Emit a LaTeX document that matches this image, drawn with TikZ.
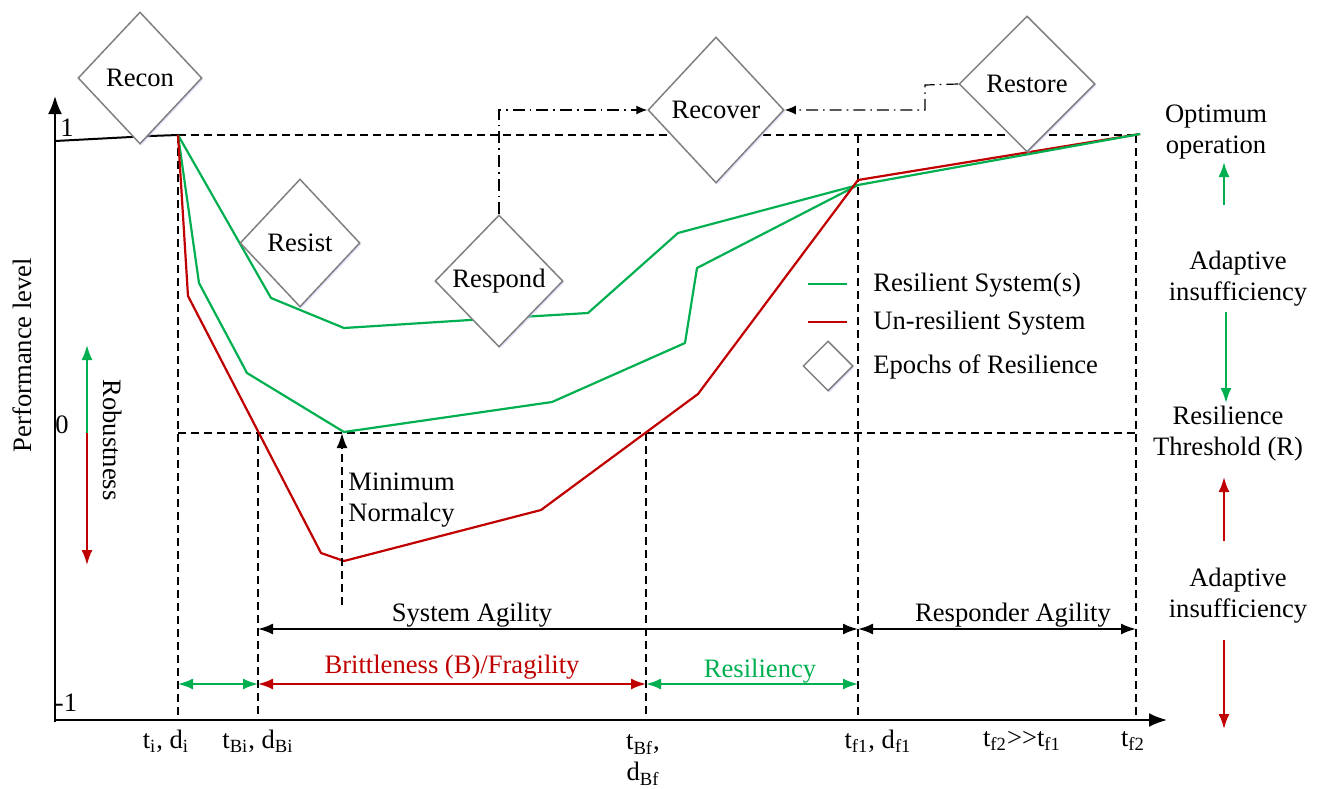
\documentclass[tikz,border=0pt]{standalone}
\usepackage{fontspec}
\setmainfont{Liberation Serif}
\usetikzlibrary{arrows.meta,shapes.geometric,shadows}
\definecolor{rgreen}{RGB}{0,176,80}
\definecolor{rred}{RGB}{192,0,0}
\definecolor{dgray}{RGB}{128,128,128}
\begin{document}
\begin{tikzpicture}[x=0.5pt,y=-0.5pt,
  font=\fontsize{13.3}{15.5}\selectfont,
  epoch/.style={diamond, draw=dgray, line width=0.75pt, fill=white, inner sep=0pt,
    drop shadow={shadow xshift=0.8pt, shadow yshift=-0.8pt, fill=blue!20, opacity=0.5}},
  dsh/.style={line width=1pt, dash pattern=on 4pt off 2.5pt},
  crv/.style={line width=1.1pt, line join=round},
  tip/.style={-{Latex[length=7.5pt,width=5.5pt]}},
  dtip/.style={{Latex[length=7.5pt,width=5.5pt]}-{Latex[length=7.5pt,width=5.5pt]}},
  dashdot/.style={line width=0.6pt, dash pattern=on 6pt off 2.5pt on 0.8pt off 2.5pt,
    -{Latex[length=5.5pt,width=4.5pt]}},
  lbl/.style={inner sep=0pt, align=center}]
\useasboundingbox (0,0) rectangle (1318,788);

% key coordinates
\coordinate (Ytop) at (55,96);
\coordinate (Xend) at (1167,720);
\coordinate (P0) at (178,135);
\coordinate (F1) at (858,185);
\coordinate (F1r) at (858,180);
\coordinate (Top2) at (1140,134);

% dashed guide lines
\draw[dsh] (P0) -- (1140,135);
\draw[dsh] (P0) -- (178,720);
\draw[dsh] (858,135) -- (858,720);
\draw[dsh] (1136,135) -- (1136,720);
\draw[dsh] (178,433) -- (1136,433);
\draw[dsh] (258,433) -- (258,720);
\draw[dsh] (646,433) -- (646,720);

% axes
\draw[line width=1pt, -{Latex[length=9pt,width=7pt]}] (55,722) -- (Ytop);
\draw[line width=1pt, -{Latex[length=9pt,width=7pt]}] (54,720) -- (Xend);
\node[lbl] (one) at (67,128) {1};
\node[lbl] (zero) at (62,425) {0};
\node[lbl] (mone) at (66,703) {-1};
\node[lbl, rotate=90] (perf) at (22,355) {Performance level};

% initial line
\draw[line width=1pt] (55,141) -- (150,136) -- (P0);

% curves
\draw[crv, rgreen] (P0) -- (271,298) -- (344,328) -- (470,320) -- (588,313) -- (678,233) -- (F1);
\draw[crv, rgreen] (P0) -- (199,283) -- (247,373) -- (344,432) -- (552,402) -- (685,343) -- (697,268) -- (F1);
\draw[crv, rred] (P0) -- (188,296) -- (321,553) -- (344,561) -- (541,510) -- (698,394) -- (F1r) -- (Top2);
\draw[crv, rgreen] (F1) -- (Top2);

% minimum normalcy
\coordinate (mnb) at (342,605);
\coordinate (mnt) at (342,433);
\draw[dsh, tip] (mnb) -- (mnt);
\node[lbl, align=left, anchor=west] (minnorm) at (348,500) {Minimum\\Normalcy};

% robustness arrow
\coordinate (rbtop) at (87,345);
\coordinate (rbmid) at (87,433);
\coordinate (rbbot) at (87,565);
\draw[line width=1pt, rgreen, tip] (rbmid) -- (rbtop);
\draw[line width=1pt, rred, tip] (rbmid) -- (rbbot);
\node[lbl, rotate=-90] (robust) at (113,440) {Robustness};

% epochs
\node[epoch, minimum width=62pt, minimum height=66pt] (recon) at (140,78) {Recon};
\node[epoch, minimum width=60pt, minimum height=64pt] (resist) at (300,243) {Resist};
\node[epoch, minimum width=64pt, minimum height=66pt] (respond) at (499,281) {Respond};
\node[epoch, minimum width=68pt, minimum height=73pt] (recover) at (716,110) {Recover};
\node[epoch, minimum width=68pt, minimum height=68pt] (restore) at (1027,84) {Restore};

% dash-dot connectors
\draw[dashdot] (respond.north) |- (recover.west);
\coordinate (rsk) at (925,85);
\draw[dashdot] (restore.west) -- (rsk) |- (recover.east);

% legend
\coordinate (lg1a) at (808,284); \coordinate (lg1b) at (847,284);
\coordinate (lg2a) at (808,322); \coordinate (lg2b) at (847,322);
\draw[crv, rgreen] (lg1a) -- (lg1b);
\draw[crv, rred] (lg2a) -- (lg2b);
\node[lbl, anchor=west] (lgt1) at (873,285) {Resilient System(s)};
\node[lbl, anchor=west] (lgt2) at (873,323) {Un-resilient System};
\node[epoch, minimum width=25pt, minimum height=25pt] (lgd) at (828,366) {};
\node[lbl, anchor=west] (lgt3) at (873,367) {Epochs of Resilience};

% right column
\node[lbl] (optop) at (1216,132) {Optimum\\operation};
\node[lbl] (adapt1) at (1238,279) {Adaptive\\insufficiency};
\node[lbl] (resth) at (1228,434) {Resilience\\Threshold (R)};
\node[lbl] (adapt2) at (1238,596) {Adaptive\\insufficiency};
\coordinate (g1a) at (1224,205); \coordinate (g1b) at (1224,162);
\coordinate (g2a) at (1226,312); \coordinate (g2b) at (1226,403);
\coordinate (r1a) at (1224,541); \coordinate (r1b) at (1224,477);
\coordinate (r2a) at (1224,640); \coordinate (r2b) at (1224,729);
\draw[line width=1pt, rgreen, tip] (g1a) -- (g1b);
\draw[line width=1pt, rgreen, tip] (g2a) -- (g2b);
\draw[line width=1pt, rred, tip] (r1a) -- (r1b);
\draw[line width=1pt, rred, tip] (r2a) -- (r2b);

% bottom spans
\coordinate (a1) at (178,684); \coordinate (a2) at (258,684);
\coordinate (a3) at (646,684); \coordinate (a4) at (858,684);
\draw[line width=1pt, rgreen, dtip] (a1) -- (a2);
\draw[line width=1pt, rred, dtip] (a2) -- (a3);
\draw[line width=1pt, rgreen, dtip] (a3) -- (a4);
\node[lbl, text=rred] (britt) at (452,667) {Brittleness (B)/Fragility};
\node[lbl, text=rgreen] (resil) at (760,671) {Resiliency};

\coordinate (b1) at (258,629); \coordinate (b2) at (858,629); \coordinate (b3) at (1136,629);
\draw[line width=1pt, dtip] (b1) -- (b2);
\draw[line width=1pt, dtip] (b2) -- (b3);
\node[lbl] (sysag) at (472,615) {System Agility};
\node[lbl] (respag) at (1013,615) {Responder Agility};

% time labels
\node[lbl] (ti) at (166,741) {t\textsubscript{i}, d\textsubscript{i}};
\node[lbl] (tbi) at (258,741) {t\textsubscript{Bi}, d\textsubscript{Bi}};
\node[lbl] (tbf) at (643,760) {t\textsubscript{Bf},\\d\textsubscript{Bf}};
\node[lbl] (tf1) at (878,741) {t\textsubscript{f1}, d\textsubscript{f1}};
\node[lbl] (tf2f1) at (1022,741) {t\textsubscript{f2}>\kern0pt>\kern0pt t\textsubscript{f1}};
\node[lbl] (tf2) at (1133,741) {t\textsubscript{f2}};
\end{tikzpicture}
\end{document}
